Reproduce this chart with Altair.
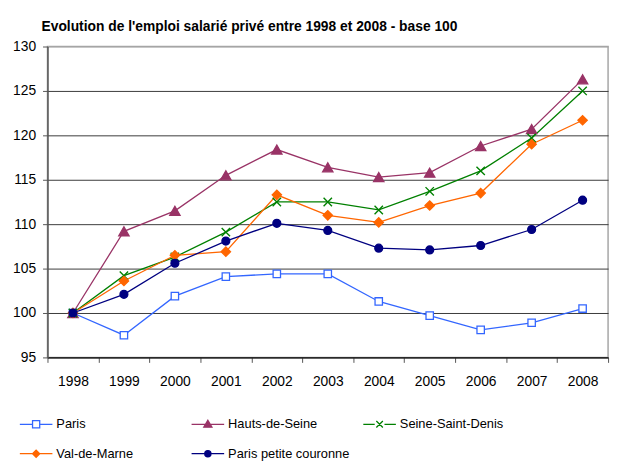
import altair as alt
import pandas as pd

years = ["1998", "1999", "2000", "2001", "2002", "2003", "2004", "2005", "2006", "2007", "2008"]
series = ["Paris", "Hauts-de-Seine", "Seine-Saint-Denis", "Val-de-Marne", "Paris petite couronne"]
paris = [100, 97.5, 101.9, 104.1, 104.4, 104.4, 101.3, 99.7, 98.1, 98.9, 100.5]
hauts_de_seine = [100, 109.2, 111.5, 115.5, 118.4, 116.4, 115.3, 115.8, 118.8, 120.7, 126.3]
seine_saint_denis = [100, 104.2, 106.3, 109.1, 112.5, 112.5, 111.6, 113.7, 116.0, 119.7, 125.0]
val_de_marne = [100, 103.6, 106.5, 106.9, 113.3, 111.0, 110.2, 112.1, 113.5, 119.0, 121.7]
petite_couronne = [100, 102.1, 105.6, 108.1, 110.1, 109.3, 107.3, 107.1, 107.6, 109.4, 112.7]
y_ticks = [95, 100, 105, 110, 115, 120, 125, 130]

colors = ["#3366FF", "#993366", "#008000", "#FF6600", "#000080"]
fills = ["white", "#993366", "#008000", "#FF6600", "#000080"]
shapes = ["square", "triangle-up", "M-1,-1L1,1M-1,1L1,-1", "diamond", "circle"]
sizes = [56, 110, 72, 90, 64]
legend_paths = [
    "M-1,0H-0.22M0.22,0H1M-0.22,-0.22H0.22V0.22H-0.22Z",
    "M-1,0H1M0,-0.24L0.25,0.18L-0.25,0.18Z",
    "M-1,0H-0.3M0.3,0H1M-0.2,-0.2L0.2,0.2M-0.2,0.2L0.2,-0.2",
    "M-1,0H1M-0.22,0L0,-0.22L0.22,0L0,0.22Z",
    "M-1,0H1M-0.19,0A0.19,0.19,0,1,1,0.19,0A0.19,0.19,0,1,1,-0.19,0Z",
]

values = [paris, hauts_de_seine, seine_saint_denis, val_de_marne, petite_couronne]
rows = []
for name, vals in zip(series, values):
    for yr, v in zip(years, vals):
        rows.append({"annee": yr, "serie": name, "valeur": v})
df = pd.DataFrame(rows)

FONT = "Liberation Sans"

x_enc = alt.X("annee:N", sort=years,
              scale=alt.Scale(type="band", paddingInner=0, paddingOuter=0),
              axis=alt.Axis(title=None, labelAngle=0, tickBand="extent", tickSize=5,
                            labelPadding=12, domainColor="#000000", tickColor="#555555",
                            labelFont=FONT, labelFontSize=14, labelColor="#000000", grid=False))
y_enc = alt.Y("valeur:Q",
              scale=alt.Scale(domain=[95, 130], nice=False, zero=False),
              axis=alt.Axis(title=None, values=y_ticks, tickSize=5, labelPadding=7,
                            domainColor="#555555", tickColor="#555555", domainWidth=1.5,
                            labelFont=FONT, labelFontSize=14, labelColor="#000000",
                            grid=True,
                            gridColor={"condition": {"test": "datum.value === 130", "value": "#a6a6a6"},
                                       "value": "#3a3a3a"},
                            gridWidth=1))

base = alt.Chart(df)

line_layers = []
point_layers = []
for name, col, fl, shp, sz in zip(series, colors, fills, shapes, sizes):
    sub = base.transform_filter(alt.datum.serie == name)
    line_layers.append(sub.mark_line(strokeWidth=1.3, stroke=col).encode(x=x_enc, y=y_enc))
    if name != "Seine-Saint-Denis":
        m = sub.mark_point(shape=shp, size=sz, filled=True, fill=fl, stroke=col,
                           strokeWidth=1.3, opacity=1)
    else:
        m = sub.mark_point(shape=shp, size=sz, filled=False, stroke=col,
                           strokeWidth=1.4, opacity=1)
    point_layers.append(m.encode(x=x_enc, y=y_enc))

legend_layer = base.mark_point(opacity=1, strokeWidth=1.3).encode(
    x=x_enc, y=y_enc,
    color=alt.Color("serie:N", scale=alt.Scale(domain=series, range=colors),
                    legend=alt.Legend(title=None, orient="none", legendX=-29, legendY=365,
                                      direction="horizontal",
                                      columns=3, gridAlign="all", columnPadding=11,
                                      rowPadding=5, symbolSize=1089, symbolStrokeWidth=1.3,
                                      labelFont=FONT, labelFontSize=13, labelColor="#000000",
                                      labelOffset=3, padding=0, symbolOpacity=1)),
    shape=alt.Shape("serie:N", scale=alt.Scale(domain=series, range=legend_paths)),
    fill=alt.Fill("serie:N", scale=alt.Scale(domain=series, range=fills)),
).transform_filter("false")

chart = alt.layer(*line_layers, *point_layers, legend_layer).properties(
    width=568, height=315,
    padding={"left": 4, "top": 9, "right": 5, "bottom": 3},
    title=alt.TitleParams("Evolution de l'emploi salarié privé entre 1998 et 2008 - base 100",
                          anchor="start", frame="group", dx=-6, offset=6,
                          font=FONT, fontSize=14, fontWeight="bold", color="#000000"),
).configure_view(stroke="#a6a6a6", strokeWidth=1.5)

chart.save("out.html", embed_options={"renderer": "svg", "actions": False})
